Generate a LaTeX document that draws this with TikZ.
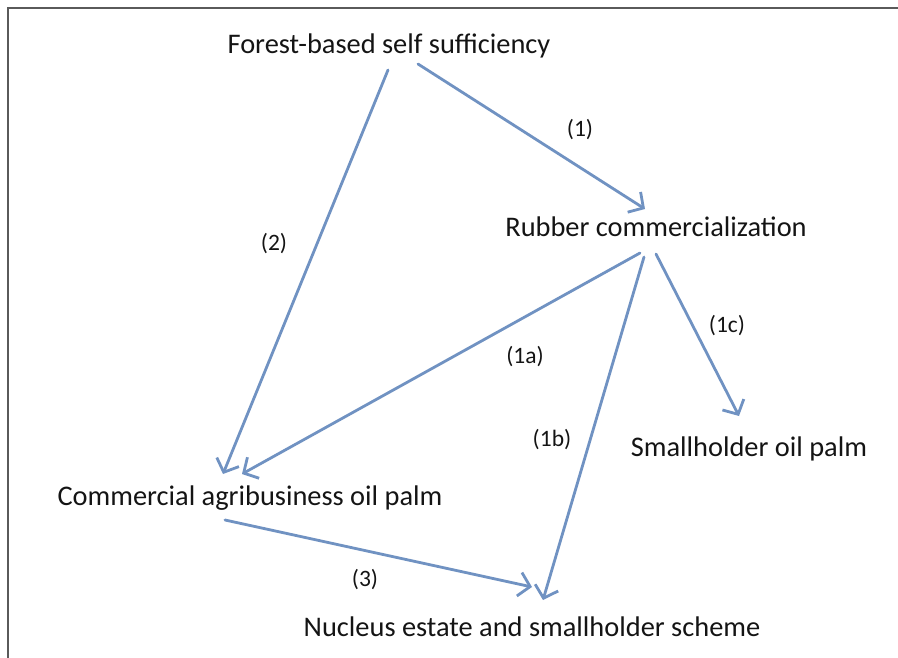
\documentclass[tikz,border=0pt]{standalone}
\usepackage{fontspec}
\setmainfont{Carlito}
\usetikzlibrary{arrows.meta}
\definecolor{flowblue}{RGB}{112,146,194}
\definecolor{framegray}{RGB}{90,90,90}
\definecolor{inkblack}{RGB}{20,20,20}
\begin{document}
\begin{tikzpicture}[x=1pt,y=-1pt,
  stage/.style={inner sep=0pt, text=inkblack, font=\fontsize{28.4}{32}\selectfont},
  tag/.style={inner sep=0pt, text=inkblack, font=\fontsize{23.5}{27}\selectfont},
  flow/.style={draw=flowblue, line width=2.8pt, line cap=round,
    -{Straight Barb[length=11pt, width=24pt, line width=2.8pt]}}]
  \useasboundingbox (0,0) rectangle (898,658);
  % frame along the top and left edges
  \draw[framegray, line width=2.6pt] (8,658) -- (8,8) -- (898,8);

  % stages
  \node[stage] (forest)  at (389,46)  {Forest-based self sufficiency};
  \node[stage] (rubber)  at (656,227) {Rubber commercialization};
  \node[stage] (small)   at (749,449) {Smallholder oil palm};
  \node[stage] (agri)    at (250,498) {Commercial agribusiness oil palm};
  \node[stage] (nucleus) at (532,627) {Nucleus estate and smallholder scheme};

  % transitions
  \draw[flow] ([shift={(29,18)}]forest.center) -- ([shift={(-11,-18)}]rubber.center);
  \draw[flow] ([shift={(-1,24)}]forest.center) -- ([shift={(-27,-24)}]agri.center);
  \draw[flow] ([shift={(-16,26)}]rubber.center) -- ([shift={(-8,-24)}]agri.center);
  \draw[flow] ([shift={(-12,30)}]rubber.center) -- ([shift={(11,-27)}]nucleus.center);
  \draw[flow] ([shift={(0,27)}]rubber.center) -- ([shift={(-10,-33)}]small.center);
  \draw[flow] ([shift={(-25,22)}]agri.center) -- ([shift={(0,-40)}]nucleus.center);

  % transition labels
  \node[tag] (t1)  at (580,130) {(1)};
  \node[tag] (t2)  at (274,244) {(2)};
  \node[tag] (t1a) at (525,357) {(1a)};
  \node[tag] (t1b) at (552,440) {(1b)};
  \node[tag] (t1c) at (727,326) {(1c)};
  \node[tag] (t3)  at (365,580) {(3)};
\end{tikzpicture}
\end{document}
